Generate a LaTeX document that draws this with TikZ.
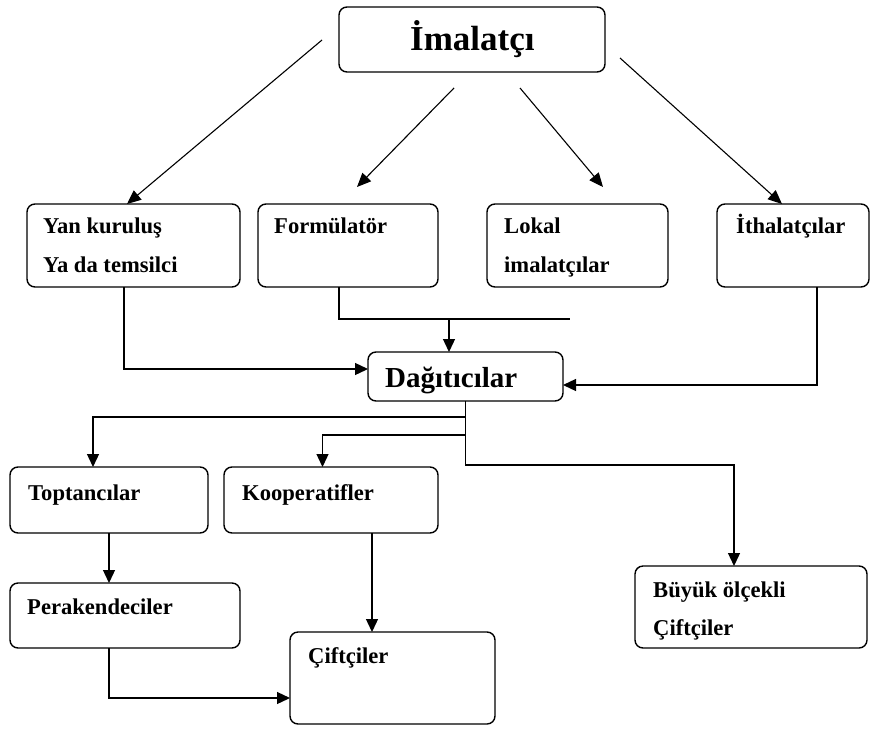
\documentclass[tikz,border=0pt]{standalone}
\usepackage{fontspec}
\setmainfont{Liberation Serif}
\usetikzlibrary{arrows.meta,calc}
\begin{document}
\begin{tikzpicture}[x=1pt,y=-1pt,
  box/.style={draw,line width=1.4pt,rounded corners=8pt,rectangle,inner sep=0pt,outer sep=0pt,anchor=north west},
  lbl/.style={anchor=base west,inner sep=0pt,font=\fontsize{22.6}{26}\selectfont\bfseries},
  big/.style={anchor=base west,inner sep=0pt,font=\fontsize{29}{34}\selectfont\bfseries},
  huge/.style={anchor=base west,inner sep=0pt,font=\fontsize{35}{40}\selectfont\bfseries},
  ln/.style={line width=1.3pt},
  arr/.style={line width=1.3pt,-{Triangle[length=13pt,width=12pt]}},
  darr/.style={line width=1.1pt,-{Triangle[length=14pt,width=12pt]}}]
\useasboundingbox (0,0) rectangle (890,728);
\fill[white] (0,0) rectangle (890,728);
% boxes
\node[box,minimum width=266pt,minimum height=65pt] (imal) at (339,7) {};
\node[box,minimum width=213pt,minimum height=83pt] (yan) at (27,204) {};
\node[box,minimum width=180pt,minimum height=83pt] (form) at (258,204) {};
\node[box,minimum width=181pt,minimum height=83pt] (lokal) at (487,204) {};
\node[box,minimum width=152pt,minimum height=83pt] (ith) at (717,204) {};
\node[box,minimum width=195pt,minimum height=49pt] (dag) at (368,352) {};
\node[box,minimum width=198pt,minimum height=66pt] (top) at (10,467) {};
\node[box,minimum width=214pt,minimum height=66pt] (koop) at (224,467) {};
\node[box,minimum width=230pt,minimum height=65pt] (per) at (10,583) {};
\node[box,minimum width=205pt,minimum height=92pt] (cift) at (290,632) {};
\node[box,minimum width=232pt,minimum height=82pt] (buyuk) at (635,566) {};
% labels
\node[huge] (timal) at (410,50) {İmalatçı};
\node[lbl] (tyan1) at (43,233) {Yan kuruluş};
\node[lbl] (tyan2) at (43,272) {Ya da temsilci};
\node[lbl] (tform) at (274,233) {Formülatör};
\node[lbl] (tlok1) at (504,233) {Lokal};
\node[lbl] (tlok2) at (504,272) {imalatçılar};
\node[lbl] (tith) at (736,233) {İthalatçılar};
\node[big] (tdag) at (385,387) {Dağıtıcılar};
\node[lbl] (ttop) at (28,500) {Toptancılar};
\node[lbl] (tkoop) at (242,500) {Kooperatifler};
\node[lbl] (tper) at (27,614) {Perakendeciler};
\node[lbl] (tcift) at (308,663) {Çiftçiler};
\node[lbl] (tbuy1) at (653,597) {Büyük ölçekli};
\node[lbl] (tbuy2) at (653,635) {Çiftçiler};
% free ends
\coordinate (s1) at (322,40);
\coordinate (s2) at (454,88);
\coordinate (e2) at (357,187);
\coordinate (s3) at (520,88);
\coordinate (e3) at (603,187);
\coordinate (s4) at (620,58);
\coordinate (fend) at (570,319);
\coordinate (fj) at (449,319);
% top arrows
\draw[darr] (s1) -- ([xshift=-6.5pt]yan.north);
\draw[darr] (s2) -- (e2);
\draw[darr] (s3) -- (e3);
\draw[darr] (s4) -- ([xshift=-11pt]ith.north);
% into Dağıtıcılar
\draw[arr] ([xshift=-9.5pt]yan.south) |- ([yshift=7.5pt]dag.west);
\draw[ln] ([xshift=-9pt]form.south) |- (fend);
\draw[arr] (fj) -- (fj |- dag.north);
\draw[arr] ([xshift=24pt]ith.south) |- ([yshift=-8.5pt]dag.east);
% out of Dağıtıcılar
\draw[arr] (dag.south) -- ++(0,16) -| ([xshift=-16pt]top.north);
\draw[arr] (dag.south) ++(0,34) -| ([xshift=-8.5pt]koop.north);
\draw[arr] (dag.south) -- ++(0,64) -| ([xshift=-17pt]buyuk.north);
% lower
\draw[arr] (top.south) -- ([xshift=-16pt]per.north);
\draw[arr] ([xshift=41pt]koop.south) -- ([xshift=41pt]koop.south |- cift.north);
\draw[arr] ([xshift=-16pt]per.south) |- ([yshift=-20pt]cift.west);
\end{tikzpicture}
\end{document}
